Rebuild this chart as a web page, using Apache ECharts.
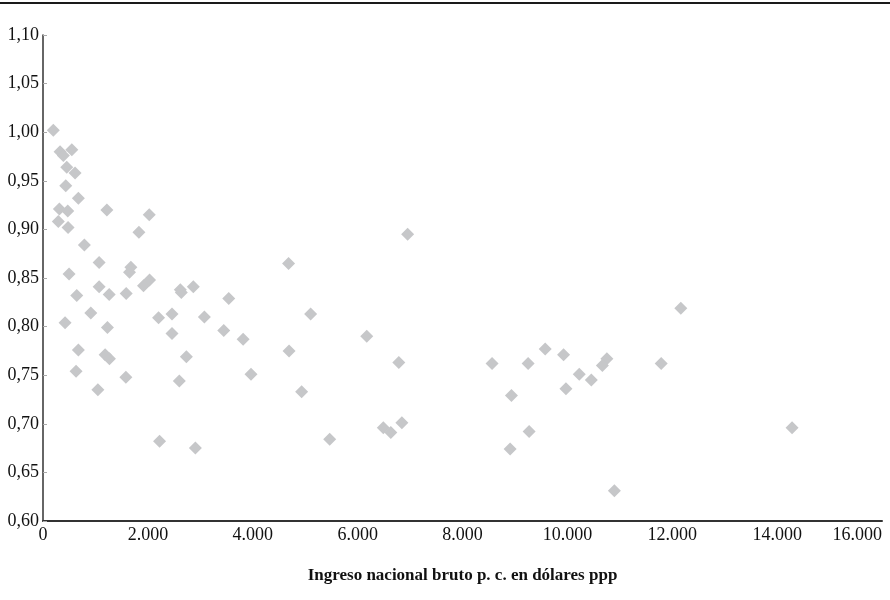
<!DOCTYPE html>
<html>
<head>
<meta charset="utf-8">
<script src="https://cdn.jsdelivr.net/npm/echarts@6/dist/echarts.min.js"></script>
<style>
html,body{margin:0;padding:0;background:#fff;}
#chart{width:890px;height:600px;}
</style>
</head>
<body>
<div id="chart"></div>
<script>
// Ingreso nacional bruto p. c. (dólares ppp)
var ingreso = [
  197, 325, 388, 549, 453, 612, 434, 675, 312, 472,
  1218, 2026, 292, 478, 1829, 789, 1070, 1676, 1650, 497,
  2032, 1917, 1070, 2619, 2638, 2867, 644, 1262, 1587, 3542,
  912, 2460, 2204, 3078, 421, 1229, 2460, 3447, 3817, 675,
  1185, 1267, 2734, 631, 1581, 2600, 3967, 1046, 2223, 2906,
  6953, 4683, 5104, 6174, 4693, 6786, 4932, 5467, 6490, 6633,
  6844, 8564, 9252, 9577, 9927, 10227, 10456, 10753, 10667, 9973,
  8933, 9271, 8908, 10896, 12163, 11789, 14285
];
var indice = [
  1.002, 0.980, 0.976, 0.982, 0.964, 0.958, 0.945, 0.932, 0.921, 0.919,
  0.920, 0.915, 0.908, 0.902, 0.897, 0.884, 0.866, 0.861, 0.856, 0.854,
  0.848, 0.842, 0.841, 0.838, 0.835, 0.841, 0.832, 0.833, 0.834, 0.829,
  0.814, 0.813, 0.809, 0.810, 0.804, 0.799, 0.793, 0.796, 0.787, 0.776,
  0.771, 0.767, 0.769, 0.754, 0.748, 0.744, 0.751, 0.735, 0.682, 0.675,
  0.895, 0.865, 0.813, 0.790, 0.775, 0.763, 0.733, 0.684, 0.696, 0.691,
  0.701, 0.762, 0.762, 0.777, 0.771, 0.751, 0.745, 0.767, 0.760, 0.736,
  0.729, 0.692, 0.674, 0.631, 0.819, 0.762, 0.696
];
var xAxisName = 'Ingreso nacional bruto p. c. en dólares ppp';

var points = ingreso.map(function (v, i) { return [v, indice[i]]; });

var chart = echarts.init(document.getElementById('chart'), null, {renderer: 'canvas'});
var serif = '"Liberation Serif", "Times New Roman", serif';
chart.setOption({
  animation: false,
  backgroundColor: '#ffffff',
  grid: {left: 43, right: 8, top: 35, bottom: 79, containLabel: false},
  graphic: [{
    type: 'line',
    shape: {x1: 0, y1: 3, x2: 890, y2: 3},
    style: {stroke: '#1a1a1a', lineWidth: 2}
  }],
  xAxis: {
    type: 'value',
    min: 0, max: 16000, interval: 2000,
    name: xAxisName,
    nameLocation: 'middle',
    nameGap: 46,
    nameTextStyle: {fontFamily: serif, fontSize: 17, fontWeight: 'bold', color: '#111'},
    axisLine: {show: true, onZero: false, lineStyle: {color: '#333', width: 2}},
    axisTick: {show: false},
    splitLine: {show: false},
    axisLabel: {
      fontFamily: serif, fontSize: 18, color: '#111', margin: 5,
      alignMaxLabel: 'right',
      formatter: function (v) { return v === 0 ? '0' : String(v).replace(/\B(?=(\d{3})+(?!\d))/g, '.'); }
    }
  },
  yAxis: {
    type: 'value',
    min: 0.6, max: 1.1, interval: 0.05,
    axisLine: {show: true, onZero: false, lineStyle: {color: '#333', width: 1.5}},
    axisTick: {show: true, inside: true, length: 4, lineStyle: {color: '#aaa'}},
    splitLine: {show: false},
    axisLabel: {
      fontFamily: serif, fontSize: 18, color: '#111', margin: 4,
      formatter: function (v) { return v.toFixed(2).replace('.', ','); }
    }
  },
  series: [{
    type: 'scatter',
    symbol: 'diamond',
    symbolSize: 13,
    itemStyle: {color: '#c6c7c9', opacity: 1},
    data: points
  }]
});
</script>
</body>
</html>
